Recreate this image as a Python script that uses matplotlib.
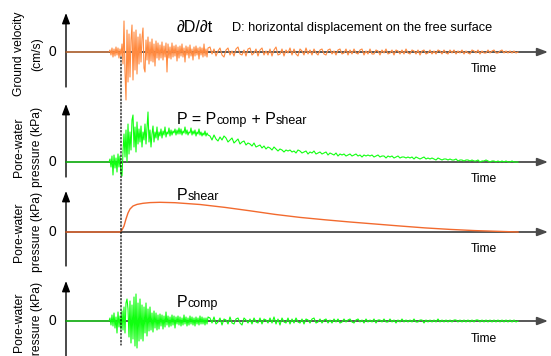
import numpy as np
import matplotlib
matplotlib.use("Agg")
import matplotlib.pyplot as plt
from matplotlib.patches import ConnectionPatch

plt.rcParams['font.family'] = ['Liberation Sans', 'DejaVu Sans']

# ---------------- data (time in s, amplitudes in arbitrary units) ----------------
record_end = 45.2          # end of record (s)
burst_start = 4.3          # first noisy sample (s)
burst_dt = 0.1             # sampling of the strong-motion part
tail_start = 14.4          # first sample of the coda part
tail_dt = 0.2              # sampling of the coda part
event_time = 5.5           # arrival marked by the dotted line

velocity_burst = [0, 2, -3, 4, -5, 3, -4, 5, -3, 4, -6, 3, -4,
                  8, -12, 31, -20, -48, 22, -30, 18, -25, 12, 27, -28, 20, -18, 22, -22, 15, -12,
                  18, -10, 14, 24, -16, -20, 12, -8, 15, -12, 10, -9, 13, -10, 8, -14, 11, -6, 9, -8,
                  7, -6, 10, -8, 6, -5, 9, -20, 8, -6, 5, -7, 9, -5, 6, -4, 7, -9, 5, -6,
                  6, -4, 8, -5, 4, -10, 6, -3, 5, -6, 7, -4, 3, -8, 5, -4, 6, -3, 4, -7, 5, -3, 4, -5, 8, -4, 3, -5, 4]
velocity_tail = [5, -2, 3, -4, 1, 4, -3, -5, 2, 4,
                 -3, 1, -4, 3, 5, -2, -3, 2, -4, 3,
                 4, -3, -1, 3, -4, 2, 4, -3, 1, -3,
                 3, -4, 2, 5, -3, -2, 3, -4, 2, -1,
                 4, -3, 3, -2, -4, 3, 1, -3, 4, -2,
                 2, -3, 3, -1, -3, 2, 3, -2, -3, 2,
                 3, -2, 1, -3, 2, 3, -2, -1, 3, -3,
                 2, -2, 3, -1, -2, 2, 3, -3, 1, -2,
                 3, -2, -2, 2, 1, -3, 2, -1, 3, -2,
                 -1, 2, -3, 2, 1, -2, 2, -2, 3, -1,
                 -2, 2, 1, -2, 2, -3, 1, 2, -2, -1,
                 2, -2, 1, -2, 2, 1, -2, 2, -1, -2,
                 2, -1, 2, -2, 1, -1, 2, -2, 1, -1,
                 -2, 2, 1, -1, 2, -2, 1, -1, -1, 2,
                 -1, 1, 2, -1, -1, 1, 2, -1, 1, -1,
                 1, -1, 1, -1, 0]

pressure_burst = [0, 3, -5, 6, -13, 7, -6, 4, -10, 8, -5, 6, -12,
                  -14, 10, 28, 5, 32, 0, 38, 8, 30, 12, 42, 47, 15, 35, 10, 40, 18, 33,
                  20, 36, 15, 30, 22, 38, 18, 34, 50, 20, 32, 15, 28, 36, 20, 30, 24, 35, 22, 30,
                  26, 33, 24, 31, 27, 35, 25, 30, 28, 34, 26, 32, 27, 31, 29, 33, 27, 32, 28, 34,
                  28, 33, 27, 31, 29, 35, 28, 32, 27, 30, 29, 34, 27, 31, 28, 32, 26, 30, 28, 33, 27, 30, 26, 29, 27, 31, 26, 29, 27]
pressure_tail = [26, 22, 27, 23, 21, 25, 22, 26, 24, 20,
                 22, 24, 19, 21, 23, 18, 20, 21, 17, 19,
                 18, 16, 19, 15, 16, 17, 14, 16, 13, 15,
                 14, 12, 15, 13, 11, 13, 12, 10, 12, 11,
                 12, 10, 11, 9, 12, 11, 9, 10, 11, 8,
                 10, 9, 11, 8, 9, 10, 8, 9, 10, 7,
                 9, 8, 7, 9, 6, 8, 7, 8, 6, 7,
                 8, 6, 7, 8, 6, 7, 5, 7, 6, 7,
                 6, 7, 5, 6, 7, 5, 6, 6, 4, 6,
                 5, 6, 4, 5, 6, 4, 5, 5, 4, 5,
                 4, 5, 3, 5, 4, 3, 4, 5, 3, 4,
                 3, 4, 3, 2, 4, 3, 2, 3, 3, 2,
                 3, 2, 2, 3, 1, 2, 2, 1, 2, 2,
                 1, 2, 1, 1, 2, 0, 1, 1, 2, 1,
                 0, 1, 1, 0, 1, 0, 1, 0, 1, 0,
                 0, 1, 0, 0, 0]

shear_time = [0, 5.4, 5.6, 5.8, 6.0, 6.2, 6.4, 6.7, 7.1, 7.7, 8.4, 9.4, 10.9, 13.4, 15.9,
              18.4, 20.9, 23.4, 25.9, 28.4, 30.9, 33.4, 35.9, 38.4, 40.9, 43.4, 45.2]
shear_pressure = [0, 0, 2, 6, 13, 19, 23, 26, 27.6, 28.7, 29.4, 29.7, 29.3, 27.5, 24.6,
                  21.2, 17.6, 14.6, 12.2, 10.0, 8.0, 6.0, 4.1, 2.6, 1.4, 0.6, 0]

comp_burst = [0, 3, -4, 6, -5, 8, -7, 4, -12, 9, -6, 5, -8,
              10, -9, 14, -12, 18, 22, 12, -16, 20, -22, 16, -18, 24, -25, 27, -27, 18, -20,
              22, -18, 16, -20, 14, -12, 18, -15, 12, -10, 14, -9, 8, -11, 10, -7, 8, -9, 6, -8,
              7, -5, 6, -8, 5, -6, 9, -4, 5, -6, 4, -5, 6, -4, 5, -7, 4, -3, 5, -4,
              4, -5, 3, -4, 6, -3, 4, -5, 3, -4, 5, -3, 4, -4, 3, -5, 4, -3, 3, -4, 5, -3, 4, -3, 3, -4, 3, -3, 4]
comp_tail = [3, -2, 4, -3, -1, 3, -4, 2, 1, -3,
             4, -2, -3, 2, 3, -2, -4, 3, 1, -2,
             2, -3, 3, -1, -2, 3, -3, 2, 1, -2,
             3, -2, 4, -3, 2, -4, 3, -1, -2, 3,
             -3, 2, -2, 3, -1, -2, 2, -3, 2, 1,
             -2, 2, 3, -2, -1, 2, -2, 1, 2, -2,
             1, -2, 2, -1, 2, -2, -1, 2, -1, 1,
             2, -1, -2, 1, 2, -1, 1, -2, 2, -1,
             1, -1, 2, -2, 1, 1, -1, 2, -1, -1,
             2, -1, 1, -2, 1, -1, 2, -1, 1, -1,
             1, -1, 2, -1, -1, 1, 1, -2, 1, -1,
             1, -1, 1, -1, 2, -1, 1, -1, 1, -1,
             1, -1, 1, 1, -1, 1, -1, 1, -1, 1,
             -1, 1, -1, 1, 1, -1, 1, -1, 1, -1,
             1, -1, 1, -1, 1, -1, 1, -1, 1, -1,
             1, -1, 1, -1, 0]

ylabels = [("Ground velocity", "(cm/s)"), ("Pore-water", "pressure (kPa)"),
           ("Pore-water", "pressure (kPa)"), ("Pore-water", "pressure (kPa)")]
x_label = "Time"

ORANGE = "#FF8A40"
GREEN = "#10FF10"
SHEAR = "#F26A2E"


def series(burst, tail):
    t = np.concatenate([[0.0],
                        burst_start + burst_dt * np.arange(len(burst)),
                        tail_start + tail_dt * np.arange(len(tail))])
    v = np.concatenate([[0.0], np.asarray(burst, float), np.asarray(tail, float)])
    return t, v


# ---------------- layout (pixels) ----------------
W, H = 551, 356
fig = plt.figure(figsize=(W / 100, H / 100), dpi=100)


def fx(px):
    return px / W


def fy(py):
    return 1 - py / H


x0_px, x1_px = 66, 548
px_per_s = 10.0
panels = [(13, 52, 87), (104, 162, 177), (191, 232, 266), (281, 321, 356)]
label_centers = [54, 147, 232, 322]

axes = []
for (top, zero, bottom) in panels:
    ax = fig.add_axes([fx(x0_px), fy(bottom), fx(x1_px) - fx(x0_px), (bottom - top) / H])
    ax.set_xlim(0, (x1_px - x0_px) / px_per_s)
    ax.set_ylim(-(bottom - zero), zero - top)
    ax.axis('off')
    axes.append(ax)

arrow_kw = dict(arrowstyle='-|>,head_length=0.45,head_width=0.17', shrinkA=0, shrinkB=0,
                mutation_scale=14)
for i, ax in enumerate(axes):
    # x-axis
    ax.annotate('', xy=(1, 0), xytext=(0, 0), xycoords=ax.get_yaxis_transform(),
                arrowprops=dict(color='#4a4a4a', lw=1.3, **arrow_kw), annotation_clip=False, zorder=1)
    # y-axis
    ax.annotate('', xy=(0, 1), xytext=(0, 0), xycoords='axes fraction',
                arrowprops=dict(color='black', lw=1.0, **arrow_kw), annotation_clip=False, zorder=1)
    ax.text(-14 / (x1_px - x0_px), 0, "0", transform=ax.get_yaxis_transform(),
            ha='center', va='center', fontsize=10)
    top, zero, bottom = panels[i]
    fig.text(fx(484), fy(zero + 20.5), x_label, ha='center', va='baseline', fontsize=8.7)
    l1, l2 = ylabels[i]
    fig.text(fx(19), fy(label_centers[i]), l1, rotation=90, ha='center', va='center', fontsize=8.7)
    fig.text(fx(37), fy(label_centers[i]), l2, rotation=90, ha='center', va='center', fontsize=8.7)

# data lines
t, v = series(velocity_burst, velocity_tail)
axes[0].plot(t, v, color=ORANGE, lw=0.8, clip_on=False, zorder=3)
t, v = series(pressure_burst, pressure_tail)
axes[1].plot(t, v, color=GREEN, lw=0.8, clip_on=False, zorder=3)
axes[2].plot(shear_time, shear_pressure, color=SHEAR, lw=1.0, clip_on=False, zorder=3)
t, v = series(comp_burst, comp_tail)
axes[3].plot(t, v, color=GREEN, lw=0.8, clip_on=False, zorder=3)

# dotted event line
con = ConnectionPatch(xyA=(event_time, -5), coordsA=axes[0].transData,
                      xyB=(event_time, -24), coordsB=axes[3].transData,
                      color='black', lw=0.9, linestyle=(0, (1.2, 1.6)), zorder=0.5)
fig.add_artist(con)

# annotations
fig.text(fx(177), fy(32), "\u2202D/\u2202t", fontsize=11.5, va='baseline')
fig.text(fx(232), fy(31), "D: horizontal displacement on the free surface", fontsize=9.2, va='baseline')


def chain(x_px, y_px, parts):
    first = fig.text(fx(x_px), fy(y_px), parts[0][0], fontsize=parts[0][1], va='baseline')
    prev = first
    for txt, size in parts[1:]:
        prev = axes[0].annotate(txt, xy=(1, 0), xycoords=prev, va='bottom', ha='left',
                                fontsize=size, annotation_clip=False)


chain(177, 124, [("P = P", 11.5), ("comp", 9), (" + P", 11.5), ("shear", 9)])
chain(177, 200, [("P", 11.5), ("shear", 9)])
chain(177, 307, [("P", 11.5), ("comp", 9)])

fig.savefig("out.png", dpi=100)
